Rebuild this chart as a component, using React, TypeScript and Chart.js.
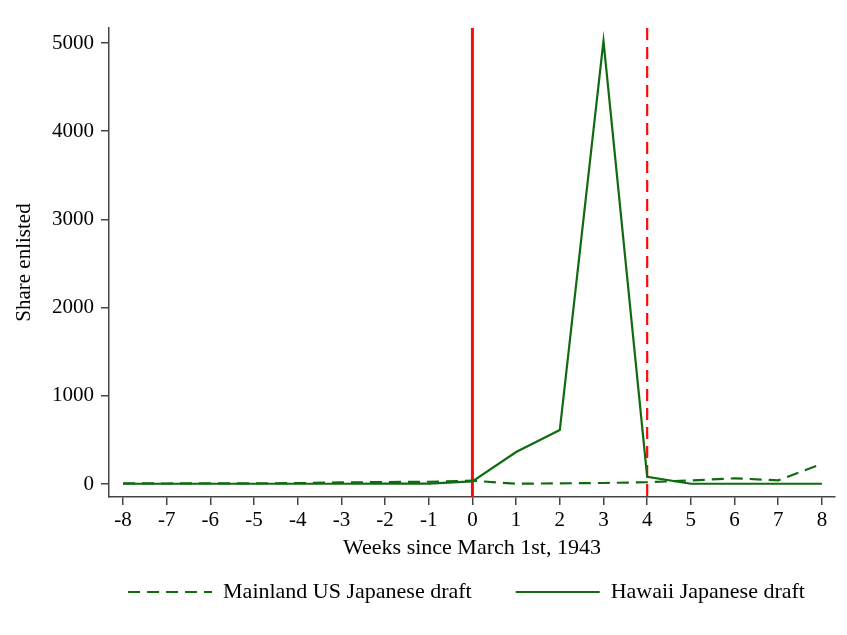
import React, { useEffect, useRef } from "react";
import { Chart, registerables } from "chart.js";

Chart.register(...registerables);

const weeks = [-8, -7, -6, -5, -4, -3, -2, -1, 0, 1, 2, 3, 4, 5, 6, 7, 8];
const mainland = [8, 6, 9, 8, 10, 19, 22, 26, 38, 3, 8, 12, 20, 40, 65, 42, 228];
const hawaii = [3, 3, 3, 3, 3, 3, 4, 5, 30, 363, 612, 5025, 83, 3, 3, 3, 3];
const yTicks = [0, 1000, 2000, 3000, 4000, 5000];
const eventWeeks = [0, 4];
const eventDashed = [false, true];
const seriesLabels = ["Mainland US Japanese draft", "Hawaii Japanese draft"];
const seriesDash = [[12, 7], []];

const FONT = "'Liberation Serif', 'Times New Roman', serif";
const GREEN = "rgb(16,106,16)";
const RED = "rgb(250,12,12)";
const AXIS = "#444";
const LEGEND_SHIFT = 49;

const refLines = {
  id: "refLines",
  beforeDatasetsDraw(chart: any) {
    const { ctx, chartArea, scales } = chart;
    const x = scales.x;
    eventWeeks.forEach((w, i) => {
      const px = x.getPixelForValue(w);
      ctx.save();
      ctx.strokeStyle = RED;
      ctx.lineWidth = eventDashed[i] ? 2.2 : 3;
      ctx.setLineDash(eventDashed[i] ? [12, 7] : []);
      ctx.beginPath();
      ctx.moveTo(px, chartArea.top);
      ctx.lineTo(px, chartArea.bottom);
      ctx.stroke();
      ctx.restore();
    });
  },
};

const legendShift = {
  id: "legendShift",
  afterLayout(chart: any) {
    const lg = chart.legend;
    if (lg) {
      lg.left += LEGEND_SHIFT;
      lg.right += LEGEND_SHIFT;
    }
  },
};

export default function App() {
  const ref = useRef<HTMLCanvasElement>(null);
  useEffect(() => {
    if (!ref.current) return;
    Chart.defaults.font.family = FONT;
    const defaultLabels = Chart.defaults.plugins.legend.labels.generateLabels;
    const chart = new Chart(ref.current, {
      type: "line",
      data: {
        datasets: [
          {
            label: seriesLabels[0],
            data: weeks.map((w, i) => ({ x: w, y: mainland[i] })),
            borderColor: GREEN,
            backgroundColor: GREEN,
            borderWidth: 2.2,
            borderDash: seriesDash[0],
            pointRadius: 0,
            tension: 0,
          },
          {
            label: seriesLabels[1],
            data: weeks.map((w, i) => ({ x: w, y: hawaii[i] })),
            borderColor: GREEN,
            backgroundColor: GREEN,
            borderWidth: 2.2,
            borderDash: seriesDash[1],
            pointRadius: 0,
            tension: 0,
          },
        ],
      },
      options: {
        animation: false,
        responsive: false,
        layout: { padding: { left: 0, right: 12, top: 28, bottom: 22 } },
        plugins: {
          tooltip: { enabled: false },
          legend: {
            position: "bottom",
            labels: {
              usePointStyle: true,
              pointStyle: "line",
              pointStyleWidth: 84,
              padding: 44,
              color: "#000",
              font: { size: 22, family: FONT },
              generateLabels: (c: any) =>
                defaultLabels(c).map((item: any, i: number) => ({
                  ...item,
                  lineDash: seriesDash[i],
                  lineWidth: 2.2,
                  strokeStyle: GREEN,
                })),
            },
          },
        },
        scales: {
          x: {
            type: "linear",
            min: -8.32,
            max: 8.3,
            afterBuildTicks: (s: any) => {
              s.ticks = weeks.map((v) => ({ value: v }));
            },
            afterFit: (s: any) => {
              s.height = 40;
            },
            ticks: {
              color: "#000",
              font: { size: 21, family: FONT },
              padding: 3,
              maxRotation: 0,
              autoSkip: false,
              callback: (v: any) => String(v),
            },
            grid: { display: true, drawOnChartArea: false, drawTicks: true, tickLength: 8, color: AXIS, lineWidth: 1.5 },
            border: { display: true, color: AXIS, width: 1.5 },
            title: {
              display: true,
              text: "Weeks since March 1st, 1943",
              color: "#000",
              font: { size: 22, family: FONT },
              padding: { top: 0, bottom: -24 },
            },
          },
          y: {
            type: "linear",
            min: -147,
            max: 5170,
            afterBuildTicks: (s: any) => {
              s.ticks = yTicks.map((v) => ({ value: v }));
            },
            afterFit: (s: any) => {
              s.width = 109;
            },
            ticks: {
              color: "#000",
              font: { size: 21, family: FONT },
              padding: 7,
              callback: (v: any) => String(v),
            },
            grid: { display: true, drawOnChartArea: false, drawTicks: true, tickLength: 8, color: AXIS, lineWidth: 1.5 },
            border: { display: true, color: AXIS, width: 1.5 },
            title: {
              display: true,
              text: "Share enlisted",
              color: "#000",
              font: { size: 21, family: FONT },
              padding: { top: 12, bottom: 0 },
            },
          },
        },
      },
      plugins: [refLines, legendShift],
    });
    return () => chart.destroy();
  }, []);
  return (
    <div style={{ position: "absolute", left: 0, top: 0, width: 847, height: 635, background: "#fff" }}>
      <canvas ref={ref} width={847} height={635} />
    </div>
  );
}
